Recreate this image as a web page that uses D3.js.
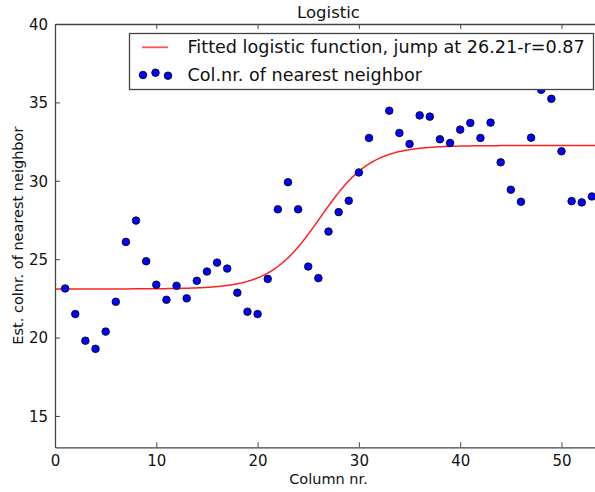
<!DOCTYPE html>
<html><head><meta charset="utf-8">
<script src="https://cdn.jsdelivr.net/npm/d3@7"></script>
<style>
body{margin:0;background:#fff;}
svg{display:block;font-family:"DejaVu Sans",sans-serif;}
</style></head>
<body><svg id="c" width="595" height="492"></svg>
<script>
const columns = [1,2,3,4,5,6,7,8,9,10,11,12,13,14,15,16,17,18,19,20,21,22,23,24,25,26,27,28,29,30,31,32,33,34,35,36,37,38,39,40,41,42,43,44,45,46,47,48,49,50,51,52,53];
const neighborCols = [23.13,21.5,19.8,19.28,20.38,22.28,26.1,27.46,24.87,23.37,22.41,23.3,22.5,23.62,24.21,24.78,24.4,22.86,21.65,21.5,23.74,28.18,29.91,28.18,24.53,23.79,26.76,28.0,28.73,30.53,32.73,37.2,34.47,33.05,32.35,34.17,34.09,32.65,32.41,33.26,33.69,32.73,33.71,31.18,29.43,28.66,32.75,35.8,35.23,31.88,28.7,28.62,29.0];
// fitted logistic parameters
const fitLow = 23.1, fitHigh = 32.25, fitJump = 26.21, fitSlope = 0.40;
const xTicks = [0,10,20,30,40,50];
const yTicks = [15,20,25,30,35,40];
const xDomain = [0,54], yDomain = [13,40];
const title = "Logistic", xLabel = "Column nr.", yLabel = "Est. colnr. of nearest neighbor";
const legendLabels = ["Fitted logistic function, jump at 26.21-r=0.87","Col.nr. of nearest neighbor"];

const svg = d3.select("#c");
const L=55, R=602, T=24, B=447.3;
const x = d3.scaleLinear().domain(xDomain).range([L,R]);
const y = d3.scaleLinear().domain(yDomain).range([B,T]);

const defs = svg.append("defs");
defs.append("clipPath").attr("id","clip").append("rect").attr("x",L).attr("y",T).attr("width",R-L).attr("height",B-T);

// fitted curve
const curveX = d3.range(xDomain[0], xDomain[1]+0.001, 0.1);
const logistic = v => fitLow + (fitHigh-fitLow)/(1+Math.exp(-fitSlope*(v-fitJump)));
svg.append("path").attr("clip-path","url(#clip)")
  .datum(curveX)
  .attr("fill","none").attr("stroke","#ff2020").attr("stroke-width",1.5)
  .attr("d", d3.line().x(d=>x(d)).y(d=>y(logistic(d))));

// points
svg.append("g").attr("clip-path","url(#clip)").selectAll("circle").data(columns)
  .join("circle")
  .attr("cx",(d)=>x(d)).attr("cy",(d,i)=>y(neighborCols[i])).attr("r",3.8)
  .attr("fill","#0000ff").attr("stroke","#000").attr("stroke-width",0.8);

// axes
const tickFont = "15px";
const xAxisB = svg.append("g").attr("transform",`translate(0,${B})`)
  .call(d3.axisBottom(x).tickValues(xTicks).tickFormat(d3.format("d")).tickSizeInner(-5).tickSizeOuter(0).tickPadding(8));
const xAxisT = svg.append("g").attr("transform",`translate(0,${T})`)
  .call(d3.axisTop(x).tickValues(xTicks).tickFormat("").tickSizeInner(-5).tickSizeOuter(0));
const yAxisL = svg.append("g").attr("transform",`translate(${L},0)`)
  .call(d3.axisLeft(y).tickValues(yTicks).tickFormat(d3.format("d")).tickSizeInner(-5).tickSizeOuter(0).tickPadding(7));
[xAxisB,xAxisT,yAxisL].forEach(g=>{
  g.select(".domain").attr("stroke","#444").attr("stroke-width",1.3);
  g.selectAll(".tick line").attr("stroke","#444");
  g.selectAll("text").attr("font-size",tickFont).attr("fill","#111").attr("font-family","DejaVu Sans");
});
yAxisL.selectAll("text").attr("dy","0.36em");

// title and labels
svg.append("text").attr("x",(L+R)/2).attr("y",18).attr("text-anchor","middle").attr("font-size","16.5px").attr("fill","#111").text(title);
svg.append("text").attr("x",(L+R)/2).attr("y",484).attr("text-anchor","middle").attr("font-size","14.5px").attr("fill","#111").text(xLabel);
svg.append("text").attr("transform",`translate(23,${(T+B)/2}) rotate(-90)`).attr("text-anchor","middle").attr("font-size","14.5px").attr("fill","#111").text(yLabel);

// legend
const lg = svg.append("g");
lg.append("rect").attr("x",129.5).attr("y",33.5).attr("width",464).attr("height",56).attr("fill","#fff").attr("stroke","#444").attr("stroke-width",1.3);
lg.append("line").attr("x1",142).attr("x2",168).attr("y1",47.3).attr("y2",47.3).attr("stroke","#ff5555").attr("stroke-width",1.8);
const legDotsX = [143,155.5,168], legDotsY = [75,72.7,75.7];
lg.selectAll("circle").data(legDotsX).join("circle").attr("cx",d=>d).attr("cy",(d,i)=>legDotsY[i]).attr("r",3.8)
  .attr("fill","#0000ff").attr("stroke","#000").attr("stroke-width",0.8);
lg.selectAll("text").data(legendLabels).join("text").attr("x",187.5).attr("y",(d,i)=>53.3+i*27.5)
  .attr("font-size","17.6px").attr("fill","#111").text(d=>d);
</script></body></html>
